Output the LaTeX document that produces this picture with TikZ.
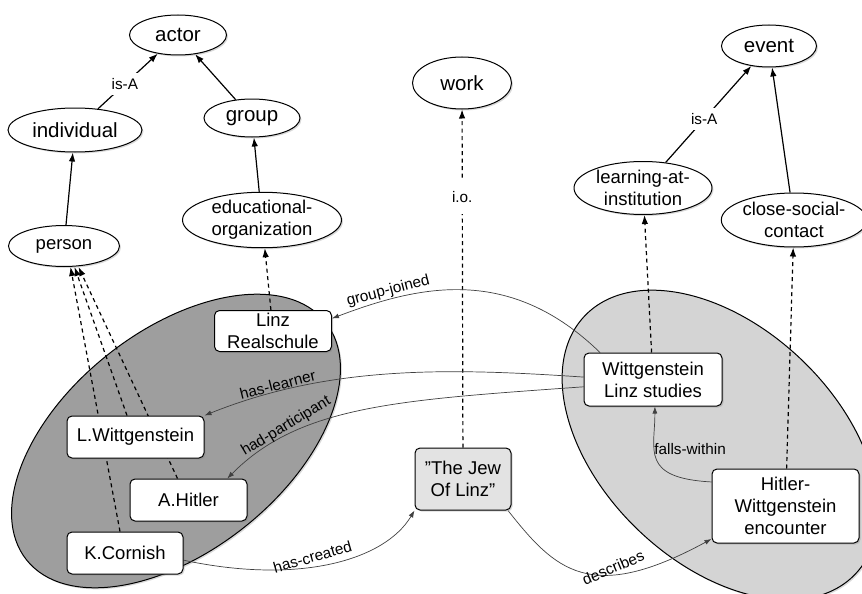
\documentclass[tikz,border=0pt]{standalone}
\usepackage{fontspec}
\setmainfont{Liberation Sans}
\usetikzlibrary{shapes.geometric}
\usetikzlibrary{shadows}
\usetikzlibrary{arrows.meta}
\definecolor{leftgray}{gray}{0.62}
\definecolor{rightgray}{gray}{0.83}
\definecolor{docgray}{gray}{0.89}
\definecolor{relgray}{gray}{0.25}
\newcommand{\nodefont}{\fontsize{18.5}{22}\selectfont}
\newcommand{\rootfont}{\fontsize{20.5}{24}\selectfont}
\newcommand{\lblfont}{\fontsize{15.3}{18}\selectfont}
\pgfdeclarelayer{regions}
\pgfdeclarelayer{links}
\pgfsetlayers{regions,links,main}
\tikzset{
  % soft shadows below the shapes
  every shadow/.style={opacity=.3,shadow xshift=1.5pt,shadow yshift=-1.5pt},
  % classes are ellipses, instances are boxes
  cls/.style={ellipse,draw,fill=white,line width=1pt,drop shadow,
    inner sep=0pt,align=center,font=\nodefont},
  rootcls/.style={cls,font=\rootfont},
  inst/.style={rectangle,rounded corners=5pt,draw,fill=white,line width=1pt,
    drop shadow,inner sep=0pt,align=center,font=\nodefont},
  doc/.style={inst,fill=docgray},
  % grey areas grouping the instances
  region/.style={ellipse,draw,line width=1pt,drop shadow,fill=#1},
  % links
  isa/.style={-{Latex[length=9pt,width=6.5pt]},line width=1.2pt},
  iof/.style={isa,dash pattern=on 4pt off 3.5pt},
  rel/.style={-{Latex[length=7pt,width=5pt]},line width=.7pt,draw=relgray},
  lbl/.style={font=\lblfont,inner sep=1pt},
  cutlbl/.style={lbl,fill=white,inner sep=5pt},
}

\begin{document}
\begin{tikzpicture}[x=1pt,y=-1pt]
  \useasboundingbox (0,0) rectangle (862,594);

  % classes
  \node[rootcls,minimum width=97pt,minimum height=40pt] (actor) at (178,35) {actor};
  \node[rootcls,minimum width=134pt,minimum height=44pt] (individual) at (75,130) {individual};
  \node[rootcls,minimum width=96pt,minimum height=38pt] (group) at (252,118) {group};
  \node[cls,minimum width=111pt,minimum height=41pt] (person) at (64,246) {person};
  \node[cls,minimum width=159pt,minimum height=54pt] (eduorg) at (262,220) {educational-\\organization};
  \node[rootcls,minimum width=99pt,minimum height=52pt] (work) at (462,83) {work};
  \node[rootcls,minimum width=95pt,minimum height=42pt] (event) at (769,46) {event};
  \node[cls,minimum width=138pt,minimum height=53pt] (learning) at (643,188) {learning-at-\\institution};
  \node[cls,minimum width=144pt,minimum height=54pt] (contact) at (794,220) {close-social-\\contact};

  % instances
  \node[inst,minimum width=117pt,minimum height=41pt] (realschule) at (273,331) {Linz\\Realschule};
  \node[inst,minimum width=137pt,minimum height=42pt] (lw) at (135.5,437) {L.Wittgenstein};
  \node[inst,minimum width=117pt,minimum height=42pt] (ah) at (188.5,500) {A.Hitler};
  \node[inst,minimum width=116pt,minimum height=42pt] (kc) at (125,553) {K.Cornish};
  \node[doc,minimum width=96pt,minimum height=62pt] (jew) at (463,479) {"The Jew\\Of Linz"};
  \node[inst,minimum width=138pt,minimum height=53pt] (studies) at (653,379.5) {Wittgenstein\\Linz studies};
  \node[inst,minimum width=147pt,minimum height=74pt] (encounter) at (785.5,506) {Hitler-\\Wittgenstein\\encounter};

  \begin{pgfonlayer}{regions}
    \node[region=leftgray,minimum width=382pt,minimum height=220pt,rotate=38.5] (people) at (176,441) {};
    \node[region=rightgray,minimum width=374pt,minimum height=236pt,rotate=-43.7] (happenings) at (720,445) {};
  \end{pgfonlayer}

  \begin{pgfonlayer}{links}
    \path
    (individual) edge[isa] node[cutlbl,pos=.45] {is-A} (actor)
    (group) edge[isa] (actor)
    (person) edge[isa] (individual)
    (eduorg) edge[isa] (group)
    (learning) edge[isa] node[cutlbl,pos=.45] {is-A} (event)
    (contact) edge[isa] (event)
    ;
    % instance-of
    \path
    (realschule) edge[iof] (eduorg)
    (studies) edge[iof] (learning)
    (encounter) edge[iof] (contact)
    (jew) edge[iof] node[cutlbl,pos=.74,inner ysep=11pt] {i.o.} (work)
    ([xshift=-5pt]kc.north) edge[iof] ([xshift=6.5pt]person.south)
    ([xshift=-8.5pt]lw.north) edge[iof] ([xshift=10.5pt]person.south)
    ([xshift=-11pt]ah.north) edge[iof] ([xshift=14.5pt]person.south)
    ;
    % relations
    \draw[rel] (studies.153) .. controls (510,265) and (420,285) .. (realschule.12)
      node[lbl,sloped,above,pos=.78] {group-joined};
    \draw[rel] (studies.178) .. controls (450,368) and (330,365) .. (lw.north east)
      node[lbl,sloped,above,pos=.8] {has-learner};
    \draw[rel] (studies.186) .. controls (400,400) and (300,405) .. (ah.29)
      node[lbl,above,rotate=31,pos=.74] {had-participant};
    \draw[rel] (kc.-7) .. controls (300,585) and (385,560) .. (jew.south west)
      node[lbl,above=3pt,rotate=16,pos=.43] {has-created};
    \draw[rel] (jew.-35) .. controls (555,570) and (590,605) .. (encounter.204)
      node[lbl,above,rotate=23,pos=.67] {describes};
    \draw[rel] (encounter.162) .. controls (640,478) and (655,450) .. (studies.-86)
      node[lbl,right,pos=.62,inner sep=0pt] {falls-within};
  \end{pgfonlayer}
\end{tikzpicture}
\end{document}
